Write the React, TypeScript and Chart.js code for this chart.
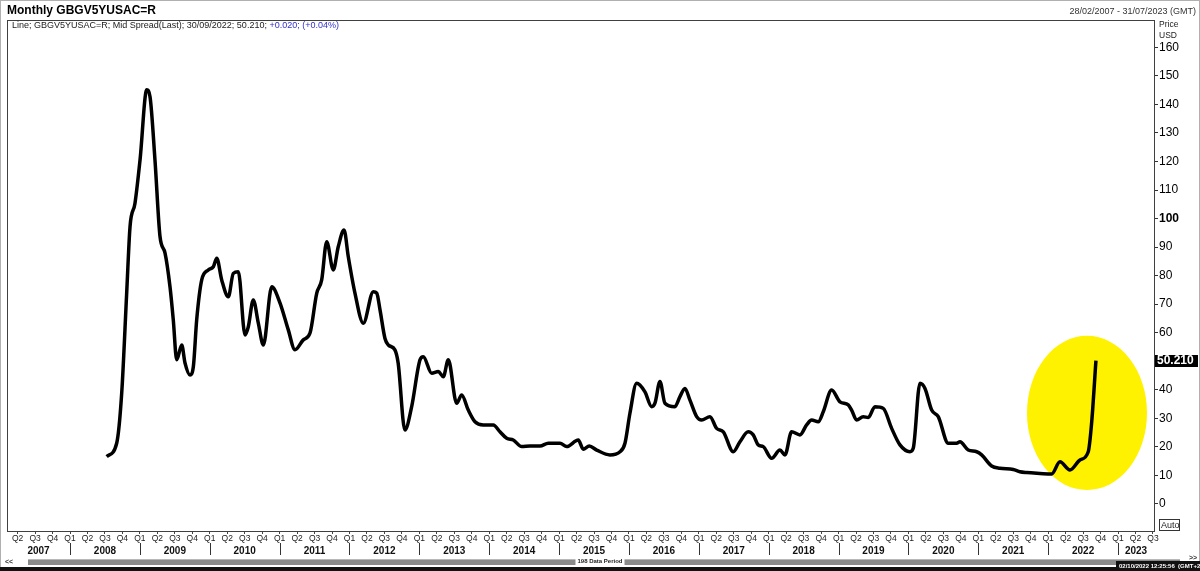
import React, { useEffect, useRef } from "react";
import { Chart, registerables } from "chart.js";

Chart.register(...registerables);

const FONT = "'Liberation Sans', Arial, sans-serif";

// ---- Text ----
const TITLE = "Monthly GBGV5YUSAC=R";
const DATE_RANGE = "28/02/2007 - 31/07/2023 (GMT)";
const LEGEND_MAIN = "Line; GBGV5YUSAC=R; Mid Spread(Last); 30/09/2022; 50.210; ";
const LEGEND_CHANGE = "+0.020; (+0.04%)";
const LAST_LABEL = "50.210";
const LAST_VALUE = 50.21;
const AXIS_UNIT_LINES = ["Price", "USD"];
const PERIOD_LABEL = "198 Data Period";
const TIMESTAMP = "02/10/2022 12:25:56  (GMT+2)";

// ---- Axis ranges / ticks ----
const X_MIN = 2007.098;
const X_MAX = 2023.515;
const Y_MIN = -9.46;
const Y_MAX = 169.56;
const Y_TICKS = [0, 10, 20, 30, 40, 50, 60, 70, 80, 90, 100, 110, 120, 130, 140, 150, 160];
const YEARS = [2007, 2008, 2009, 2010, 2011, 2012, 2013, 2014, 2015, 2016, 2017, 2018, 2019, 2020, 2021, 2022, 2023];
const QUARTER_LABELS = ["Q1", "Q2", "Q3", "Q4"];

// ---- Series (time in decimal years, spread in USD) ----
const pointYears = [
  2008.525, 2008.668, 2008.74, 2008.811, 2008.859, 2008.93, 2009.002, 2009.098, 2009.145, 2009.216,
  2009.288, 2009.36, 2009.431, 2009.478, 2009.527, 2009.599, 2009.646, 2009.717, 2009.765, 2009.813,
  2009.885, 2009.979, 2010.051, 2010.1, 2010.171, 2010.266, 2010.337, 2010.409, 2010.505, 2010.552,
  2010.623, 2010.695, 2010.767, 2010.887, 2011.006, 2011.124, 2011.22, 2011.339, 2011.435, 2011.531,
  2011.602, 2011.674, 2011.768, 2011.84, 2011.922, 2011.983, 2012.079, 2012.198, 2012.341, 2012.39,
  2012.437, 2012.508, 2012.556, 2012.65, 2012.697, 2012.793, 2012.89, 2013.009, 2013.056, 2013.177,
  2013.271, 2013.343, 2013.414, 2013.534, 2013.606, 2013.7, 2013.796, 2013.915, 2014.058, 2014.154,
  2014.25, 2014.344, 2014.465, 2014.583, 2014.727, 2014.845, 2015.013, 2015.109, 2015.275, 2015.346,
  2015.432, 2015.538, 2015.728, 2015.872, 2015.943, 2016.014, 2016.11, 2016.229, 2016.325, 2016.372,
  2016.444, 2016.515, 2016.658, 2016.73, 2016.801, 2016.873, 2016.969, 2017.04, 2017.159, 2017.255,
  2017.35, 2017.493, 2017.589, 2017.707, 2017.779, 2017.85, 2017.922, 2018.042, 2018.161, 2018.233,
  2018.328, 2018.447, 2018.543, 2018.615, 2018.709, 2018.781, 2018.901, 2019.02, 2019.139, 2019.187,
  2019.259, 2019.353, 2019.425, 2019.521, 2019.64, 2019.76, 2019.879, 2020.022, 2020.069, 2020.165,
  2020.237, 2020.333, 2020.427, 2020.57, 2020.69, 2020.738, 2020.856, 2020.977, 2021.048, 2021.191,
  2021.31, 2021.5, 2021.596, 2021.692, 2021.883, 2022.05, 2022.169, 2022.312, 2022.455, 2022.574,
  2022.622, 2022.684,
];
const spreadValues = [
  16.6, 21.3, 38.9, 73.9, 97.2, 105.4, 120.5, 145.1, 142.7, 120.5,
  93.7, 87.9, 76.1, 64.5, 50.5, 55.7, 49.4, 45.2, 48.1, 64.5,
  78.5, 82.0, 83.1, 86.1, 78.5, 72.6, 80.8, 81.4, 59.2, 62.1,
  71.5, 63.4, 55.7, 76.1, 70.4, 61.0, 54.0, 57.5, 59.9, 73.8,
  78.5, 91.9, 82.0, 90.2, 96.0, 86.6, 73.8, 63.3, 74.4, 73.9,
  68.0, 58.0, 55.7, 54.0, 49.3, 25.9, 34.1, 50.5, 51.6, 45.8,
  46.4, 44.6, 50.5, 35.3, 38.2, 32.9, 28.8, 27.7, 27.7, 25.3,
  23.0, 22.4, 20.1, 20.3, 20.3, 21.3, 21.3, 20.1, 22.4, 19.2,
  20.3, 18.9, 17.2, 18.3, 21.3, 31.8, 42.3, 39.3, 34.1, 35.3,
  42.9, 35.3, 34.1, 37.6, 40.5, 36.4, 30.6, 29.4, 30.6, 26.5,
  25.3, 18.3, 21.8, 25.3, 24.2, 20.7, 20.1, 16.0, 18.9, 17.2,
  25.3, 24.2, 27.7, 29.4, 28.8, 32.3, 39.9, 35.8, 34.7, 32.9,
  29.4, 30.6, 30.3, 34.1, 33.5, 26.5, 20.7, 18.3, 19.5, 42.3,
  40.5, 32.9, 30.6, 21.3, 21.3, 21.8, 18.9, 18.3, 17.2, 13.3,
  12.5, 12.1, 11.3, 11.0, 10.7, 10.5, 14.8, 11.9, 15.4, 18.3,
  28.3, LAST_VALUE,
];

// Highlight ellipse (data units)
const HIGHLIGHT_CENTER = { x: 2022.556, y: 31.9 };
const HIGHLIGHT_RADII = { x: 0.859, y: 27.0 };

const quarterValues: number[] = [];
YEARS.forEach((yr) => {
  for (let q = 0; q < 4; q++) {
    const v = yr + q / 4;
    if (v >= X_MIN && v <= X_MAX) quarterValues.push(v);
  }
});
const yearCenters = YEARS.map((yr) => (Math.max(yr, X_MIN) + Math.min(yr + 1, X_MAX)) / 2);

const decorPlugin = {
  id: "decor",
  beforeDatasetsDraw(chart: any) {
    const { ctx, scales } = chart;
    const xs = scales.x;
    const ys = scales.y;
    const cx = xs.getPixelForValue(HIGHLIGHT_CENTER.x);
    const cy = ys.getPixelForValue(HIGHLIGHT_CENTER.y);
    const rx = Math.abs(xs.getPixelForValue(HIGHLIGHT_CENTER.x + HIGHLIGHT_RADII.x) - cx);
    const ry = Math.abs(ys.getPixelForValue(HIGHLIGHT_CENTER.y + HIGHLIGHT_RADII.y) - cy);
    ctx.save();
    ctx.fillStyle = "#fff200";
    ctx.beginPath();
    ctx.ellipse(cx, cy, rx, ry, 0, 0, Math.PI * 2);
    ctx.fill();
    ctx.restore();
  },
  afterDraw(chart: any) {
    const { ctx, chartArea, scales, width, height } = chart;
    const xs = scales.x;
    const ys = scales.y;
    const { left, right, top, bottom } = chartArea;
    ctx.save();

    // outer border
    ctx.strokeStyle = "#b0b0b0";
    ctx.lineWidth = 1;
    ctx.strokeRect(0.5, 0.5, width - 1, height - 1);

    // plot frame
    ctx.strokeStyle = "#404040";
    ctx.strokeRect(Math.round(left) + 0.5, Math.round(top) + 0.5, Math.round(right - left), Math.round(bottom - top));

    // title
    ctx.fillStyle = "#000";
    ctx.textBaseline = "middle";
    ctx.textAlign = "left";
    ctx.font = `bold 12px ${FONT}`;
    ctx.fillText(TITLE, 7, 11);

    // date range
    ctx.font = `9px ${FONT}`;
    ctx.fillStyle = "#333";
    ctx.textAlign = "right";
    ctx.fillText(DATE_RANGE, 1196, 12);

    // legend
    ctx.textAlign = "left";
    ctx.fillStyle = "#222";
    ctx.font = `9px ${FONT}`;
    ctx.fillText(LEGEND_MAIN, 12, 26);
    const w = ctx.measureText(LEGEND_MAIN).width;
    ctx.fillStyle = "#3030d0";
    ctx.fillText(LEGEND_CHANGE, 12 + w, 26);

    // axis unit
    ctx.fillStyle = "#222";
    ctx.font = `8.5px ${FONT}`;
    ctx.fillText(AXIS_UNIT_LINES[0], right + 5, 25);
    ctx.fillText(AXIS_UNIT_LINES[1], right + 5, 36);

    // last value tag
    const ly = ys.getPixelForValue(LAST_VALUE);
    ctx.fillStyle = "#000";
    ctx.fillRect(right + 1, Math.round(ly) - 6, 43, 12);
    ctx.fillStyle = "#fff";
    ctx.font = `bold 12px ${FONT}`;
    ctx.fillText(LAST_LABEL, right + 3, ly + 0.5);

    // Auto box
    ctx.strokeStyle = "#333";
    ctx.strokeRect(right + 5.5, bottom - 11.5, 20, 11);
    ctx.fillStyle = "#222";
    ctx.font = `9px ${FONT}`;
    ctx.fillText("Auto", right + 7, bottom - 5.5);

    // year separators
    ctx.strokeStyle = "#333";
    ctx.lineWidth = 1;
    YEARS.forEach((yr) => {
      if (yr <= X_MIN || yr >= X_MAX) return;
      const px = Math.round(xs.getPixelForValue(yr)) + 0.5;
      ctx.beginPath();
      ctx.moveTo(px, bottom + 12);
      ctx.lineTo(px, bottom + 24);
      ctx.stroke();
    });

    // scrollbar
    ctx.fillStyle = "#8a8a8a";
    ctx.fillRect(28, 560, 1152, 5);
    ctx.fillStyle = "#b8b8b8";
    ctx.fillRect(28, 559, 1152, 1);
    ctx.font = `bold 6px ${FONT}`;
    const pw = ctx.measureText(PERIOD_LABEL).width;
    ctx.fillStyle = "#fff";
    ctx.fillRect(600 - pw / 2 - 2, 558, pw + 4, 7);
    ctx.fillStyle = "#222";
    ctx.textAlign = "center";
    ctx.fillText(PERIOD_LABEL, 600, 561.5);
    ctx.textAlign = "left";
    ctx.font = `bold 7px ${FONT}`;
    ctx.fillStyle = "#333";
    ctx.fillText("<<", 5, 562);

    // bottom black bar
    ctx.fillStyle = "#111";
    ctx.fillRect(0, 567, width, 4);
    ctx.fillRect(1116, 561, 84, 10);
    ctx.fillStyle = "#fff";
    ctx.font = `bold 6px ${FONT}`;
    ctx.fillText(TIMESTAMP, 1119, 566);
    ctx.fillStyle = "#333";
    ctx.font = `bold 7px ${FONT}`;
    ctx.fillText(">>", 1189, 558);

    ctx.restore();
  },
};

export default function App() {
  const canvasRef = useRef<HTMLCanvasElement | null>(null);

  useEffect(() => {
    if (!canvasRef.current) return;
    const points = pointYears.map((t, i) => ({ x: t, y: spreadValues[i] }));
    const chart = new Chart(canvasRef.current, {
      type: "line",
      data: {
        datasets: [
          {
            label: "GBGV5YUSAC=R",
            data: points,
            borderColor: "#000",
            borderWidth: 3.5,
            pointRadius: 0,
            cubicInterpolationMode: "monotone",
            fill: false,
          },
        ],
      },
      options: {
        animation: false,
        responsive: false,
        devicePixelRatio: 1,
        layout: { padding: { left: 7, top: 20, right: 0, bottom: 14 } },
        plugins: { legend: { display: false }, tooltip: { enabled: false }, title: { display: false } },
        scales: {
          x: {
            type: "linear",
            position: "bottom",
            min: X_MIN,
            max: X_MAX,
            afterBuildTicks: (scale: any) => {
              scale.ticks = quarterValues.map((v) => ({ value: v }));
            },
            afterFit: (scale: any) => {
              scale.height = 12;
            },
            grid: { display: true, drawOnChartArea: false, drawTicks: true, tickLength: 3, color: "#444" },
            border: { display: false },
            ticks: {
              autoSkip: false,
              maxRotation: 0,
              padding: 0,
              color: "#222",
              font: { family: FONT, size: 8.5, lineHeight: 1 },
              callback: (value: any) => {
                const v = Number(value);
                const q = Math.round((v - Math.floor(v + 1e-6)) * 4) % 4;
                return QUARTER_LABELS[q];
              },
            },
          },
          x2: {
            type: "linear",
            position: "bottom",
            min: X_MIN,
            max: X_MAX,
            afterBuildTicks: (scale: any) => {
              scale.ticks = yearCenters.map((v) => ({ value: v }));
            },
            afterFit: (scale: any) => {
              scale.height = 14;
            },
            grid: { display: false },
            border: { display: false },
            ticks: {
              autoSkip: false,
              maxRotation: 0,
              padding: -5,
              color: "#111",
              font: { family: FONT, size: 10, weight: "bold", lineHeight: 1 },
              callback: (value: any) => String(Math.floor(Number(value))),
            },
          },
          y: {
            type: "linear",
            position: "right",
            min: Y_MIN,
            max: Y_MAX,
            afterBuildTicks: (scale: any) => {
              scale.ticks = Y_TICKS.map((v) => ({ value: v }));
            },
            afterFit: (scale: any) => {
              scale.width = 46;
            },
            grid: { display: true, drawOnChartArea: false, drawTicks: true, tickLength: 4, color: "#333" },
            border: { display: false },
            ticks: {
              padding: 1,
              color: "#000",
              font: (c: any) => ({
                family: FONT,
                size: 12,
                weight: c.tick && c.tick.value === 100 ? "bold" : "normal",
              }),
              callback: (value: any) => String(value),
            },
          },
        },
      },
      plugins: [decorPlugin],
    } as any);
    return () => chart.destroy();
  }, []);

  return (
    <div style={{ position: "absolute", left: 0, top: 0, width: 1200, height: 571, background: "#fff" }}>
      <canvas ref={canvasRef} width={1200} height={571} style={{ display: "block" }} />
    </div>
  );
}
